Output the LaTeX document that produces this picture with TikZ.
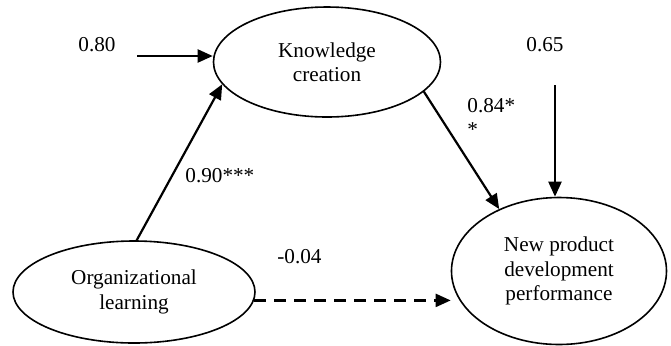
\documentclass[tikz,border=0pt]{standalone}
\usepackage{fontspec}
\setmainfont{Liberation Serif}
\usetikzlibrary{shapes.geometric}
\usetikzlibrary{arrows.meta}

\begin{document}
\begin{tikzpicture}[x=0.5pt,y=-0.5pt,
  every node/.style={font=\fontsize{10.6}{12.2}\selectfont},
  construct/.style={ellipse,draw,line width=0.8pt,inner sep=0pt,align=center},
  effect/.style={line width=1.1pt,-{Triangle[length=7.5pt,width=6.5pt]}},
  coef/.style={inner sep=0pt}]
  \useasboundingbox (0,0) rectangle (671,345);

  % constructs
  \node [construct,minimum width=113.5pt,minimum height=55pt] (kc) at (327,62) {Knowledge\\creation};
  \node [construct,minimum width=121pt,minimum height=51pt] (ol) at (134,292) {Organizational\\learning};
  \node [construct,minimum width=107.5pt,minimum height=73.5pt] (npd) at (559,271) {New product\\development\\performance};

  % error terms
  \coordinate (e1) at (137,56);
  \coordinate (e2) at (555,85);
  \node [coef] (c80) at (97,45) {0.80};
  \node [coef] (c65) at (545,45) {0.65};
  \draw [effect] (e1) -- (e1 -| kc.west);
  \draw [effect] (e2) -- (e2 |- npd.north);

  % paths
  \draw [effect] (ol.87) -- (kc.192);
  \draw [effect] (kc.343) -- (npd.134);
  \draw [effect,dash pattern=on 6pt off 4pt] (ol.-4) -- (ol.-4 -| npd.west);

  \node [coef,anchor=base west] (c90) at (185,182) {0.90***};
  \node [coef,anchor=north west,align=left] (c84) at (467,98) {0.84*\\*};
  \node [coef,anchor=west] (c04) at (277,257) {-0.04};
\end{tikzpicture}
\end{document}
